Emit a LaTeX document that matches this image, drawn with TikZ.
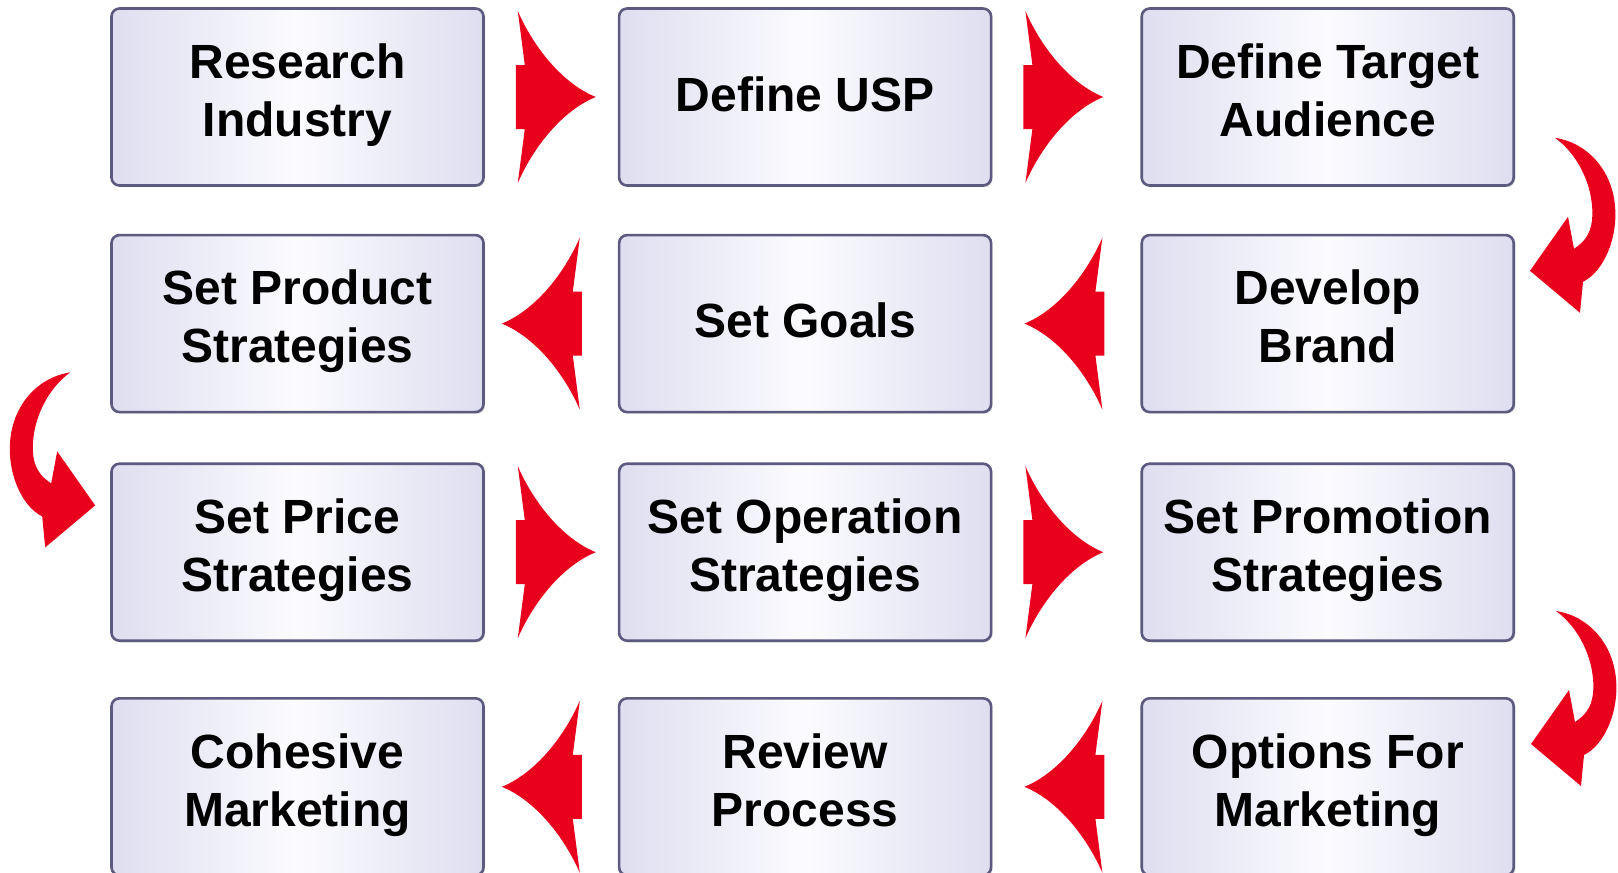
\documentclass[tikz,border=0pt]{standalone}
\usepackage{fontspec}
\setmainfont{Liberation Sans}
\usepackage{tikz}
\usetikzlibrary{positioning, calc, shadows}
\definecolor{boxside}{RGB}{222, 222, 240}
\definecolor{boxmid}{RGB}{251, 251, 255}
\definecolor{boxline}{RGB}{92, 90, 126}
\definecolor{arrowred}{RGB}{232, 0, 28}
\newcommand\boxstrut{\vrule height 21pt depth 7pt width 0pt}

\tikzset{
  % straight arrow, tip at the origin, pointing right
  flowarrow/.pic={
    \fill [arrowred] (-78,-86) .. controls (-60,-45) and (-30,-12) .. (0,0)
      .. controls (-30,12) and (-60,45) .. (-78,86) -- (-71,32) -- (-80,32)
      -- (-80,-32) -- (-71,-32) -- cycle;
  },
  % bent arrow, tip at the origin, tail above it
  turnarrow/.pic={
    \fill [arrowred] (25,-133) .. controls (50,-115) and (65,-80) .. (62,-50)
      .. controls (60,-35) and (53,-28) .. (44,-22) -- (38,-54) -- (0,0)
      -- (50,42) -- (53,11) .. controls (75,0) and (88,-35) .. (85,-65)
      .. controls (82,-100) and (58,-128) .. (25,-133) -- cycle;
  }
}

\begin{document}
\begin{tikzpicture}[x=0.5pt, y=-0.5pt,
    stagebox/.style={draw=boxline, line width=1.3pt, rounded corners=4pt,
      left color=boxside, right color=boxside, middle color=boxmid,
      drop shadow={shadow xshift=0.8pt, shadow yshift=-0.8pt, opacity=0.25},
      minimum width=186pt, minimum height=88.5pt, align=center,
      execute at begin node=\boxstrut, execute at end node=\boxstrut,
      font=\bfseries\fontsize{24}{29}\selectfont}]
    \useasboundingbox (0,0) rectangle (1618,873);

    % row 1, left to right
    \node [stagebox] (research) at (297.5,97) {Research\\Industry};
    \node [stagebox, right=66.5pt of research] (usp) {Define USP};
    \node [stagebox, right=74pt of usp] (audience) {Define Target\\Audience};

    % row 2, right to left
    \node [stagebox, below=23.5pt of audience] (brand) {Develop\\Brand};
    \node [stagebox, below=23.5pt of usp] (goals) {Set Goals};
    \node [stagebox, below=23.5pt of research] (product) {Set Product\\Strategies};

    % row 3, left to right
    \node [stagebox, below=24.5pt of product] (price) {Set Price\\Strategies};
    \node [stagebox, below=24.5pt of goals] (operation) {Set Operation\\Strategies};
    \node [stagebox, below=24.5pt of brand] (promotion) {Set Promotion\\Strategies};

    % row 4, right to left
    \node [stagebox, below=27.5pt of promotion] (options) {Options For\\Marketing};
    \node [stagebox, below=27.5pt of operation] (review) {Review\\Process};
    \node [stagebox, below=27.5pt of price] (cohesive) {Cohesive\\Marketing};

    % arrows between the stages
    \pic at ($(research.east)+(111,0)$) {flowarrow};
    \pic at ($(usp.east)+(111,0)$) {flowarrow};
    \pic at ($(audience.south east)+(15,84)$) {turnarrow};
    \pic [xscale=-1] at ($(brand.west)+(-116,0)$) {flowarrow};
    \pic [xscale=-1] at ($(goals.west)+(-116,0)$) {flowarrow};
    \pic [xscale=-1] at ($(product.south west)+(-15,92)$) {turnarrow};
    \pic at ($(price.east)+(111,0)$) {flowarrow};
    \pic at ($(operation.east)+(111,0)$) {flowarrow};
    \pic at ($(promotion.south east)+(16,102)$) {turnarrow};
    \pic [xscale=-1] at ($(options.west)+(-116,0)$) {flowarrow};
    \pic [xscale=-1] at ($(review.west)+(-116,0)$) {flowarrow};
\end{tikzpicture}
\end{document}
